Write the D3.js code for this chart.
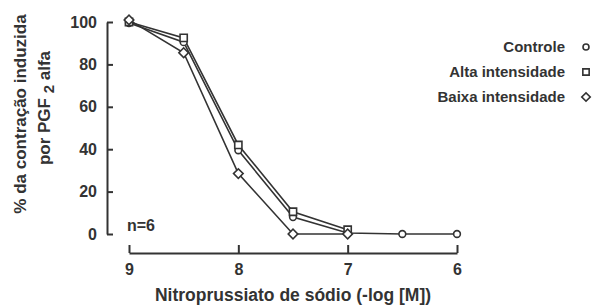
<!DOCTYPE html>
<html lang="pt">
  <head>
    <meta charset="UTF-8" />
    <title>Nitroprussiato</title>
    <script src="https://d3js.org/d3.v7.min.js"></script>
    <style>
      body { margin: 0; background: #fff; }
      text { font-family: 'Liberation Sans', Arial, sans-serif; font-weight: bold; fill: #333; }
    </style>
  </head>

  <body>
    <div id="graph"></div>
    <script>
      // dados
      const doses = [9, 8.5, 8, 7.5, 7, 6.5, 6]
      const controle = [99.5, 90.5, 39.5, 8, 0.5, 0, 0]
      const alta = [100, 92.5, 42, 10.5, 2]
      const baixa = [101, 85.5, 28.5, 0, 0]
      const xTicks = [9, 8, 7, 6]
      const yTicks = [0, 20, 40, 60, 80, 100]
      const seriesNames = ['Controle', 'Alta intensidade', 'Baixa intensidade']

      const ink = '#333'
      const svg = d3.select('#graph').append('svg').attr('width', 600).attr('height', 306)

      const x = d3.scaleLinear().domain([9, 6]).range([129, 457])
      const y = d3.scaleLinear().domain([0, 100]).range([234, 22])

      // eixo y (ticks para dentro)
      const yAxis = svg.append('g').attr('transform', 'translate(107,0)')
        .call(d3.axisRight(y).tickValues(yTicks).tickSize(6).tickSizeOuter(0))
      yAxis.select('.domain').attr('stroke', ink).attr('stroke-width', 2)
      yAxis.selectAll('.tick line').attr('stroke', ink).attr('stroke-width', 2)
      yAxis.selectAll('.tick text').attr('x', -10).attr('text-anchor', 'end')
        .attr('font-size', 16).attr('font-family', null).attr('fill', ink)

      // eixo x (ticks para cima)
      const xAxis = svg.append('g').attr('transform', 'translate(0,253)')
        .call(d3.axisBottom(x).tickValues(xTicks).tickFormat(d3.format('d')).tickSizeInner(-8).tickSizeOuter(0))
      xAxis.select('.domain').attr('stroke', ink).attr('stroke-width', 2)
      xAxis.selectAll('.tick line').attr('stroke', ink).attr('stroke-width', 2)
      xAxis.selectAll('.tick text').attr('y', 11).attr('dy', '0.71em')
        .attr('font-size', 16).attr('font-family', null).attr('fill', ink)

      // títulos
      svg.append('text').attr('x', 293).attr('y', 301).attr('text-anchor', 'middle')
        .attr('font-size', 17.5).text('Nitroprussiato de sódio (-log [M])')

      const yt = svg.append('g').attr('transform', 'translate(26,114) rotate(-90)')
      yt.append('text').attr('text-anchor', 'middle').attr('font-size', 17).text('% da contração induzida')
      const yt2 = yt.append('text').attr('y', 24).attr('x', 6).attr('text-anchor', 'middle').attr('font-size', 17)
      yt2.append('tspan').text('por PGF ')
      yt2.append('tspan').attr('dy', 4).attr('font-size', 15).text('2')
      yt2.append('tspan').attr('dy', -4).text(' alfa')

      svg.append('text').attr('x', 127).attr('y', 231).attr('font-size', 16).text('n=6')

      // marcadores
      const shapes = [
        d3.symbol().type(d3.symbolCircle).size(36),
        d3.symbol().type(d3.symbolSquare).size(52),
        d3.symbol().type(d3.symbolSquare).size(46)
      ]
      const legShapes = [
        d3.symbol().type(d3.symbolCircle).size(28),
        d3.symbol().type(d3.symbolSquare).size(40),
        d3.symbol().type(d3.symbolSquare).size(36)
      ]
      const rot = [0, 0, 45]
      const series = [controle, alta, baixa]

      const line = d3.line().x((d, i) => x(doses[i])).y((d) => y(d))
      series.forEach((s) => {
        svg.append('path').attr('d', line(s)).attr('fill', 'none')
          .attr('stroke', ink).attr('stroke-width', 1.6)
      })
      series.forEach((s, k) => {
        svg.append('g').selectAll('path').data(s).join('path')
          .attr('d', shapes[k]())
          .attr('transform', (d, i) => `translate(${x(doses[i])},${y(d)}) rotate(${rot[k]})`)
          .attr('fill', '#fff').attr('stroke', ink).attr('stroke-width', 1.6)
      })

      // legenda
      const leg = svg.append('g').attr('transform', 'translate(565,47)')
      seriesNames.forEach((name, k) => {
        const row = leg.append('g').attr('transform', `translate(0,${k * 25})`)
        row.append('text').attr('y', 5).attr('text-anchor', 'end').attr('font-size', 15).text(name)
        row.append('path').attr('d', legShapes[k]()).attr('transform', `translate(21,0) rotate(${rot[k]})`)
          .attr('fill', '#fff').attr('stroke', ink).attr('stroke-width', 1.6)
      })
    </script>
  </body>
</html>
